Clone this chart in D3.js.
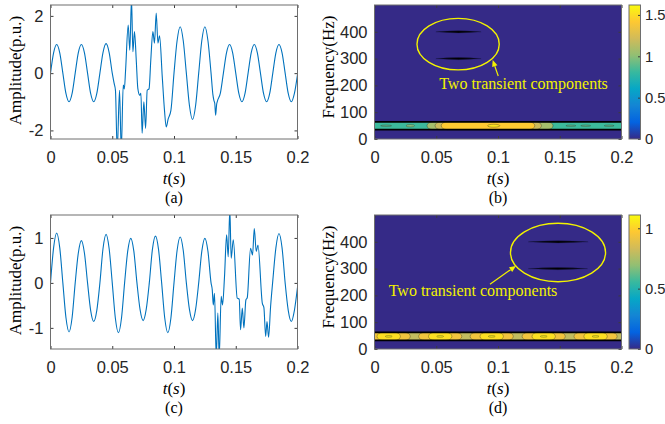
<!DOCTYPE html>
<html lang="en">
<head>
<meta charset="UTF-8">
<title>Signals and time-frequency maps</title>
<script src="https://cdn.jsdelivr.net/npm/d3@7"></script>
<style>
  body { margin: 0; background: #fff; }
  .lbl { font-family: "Liberation Serif", "Times New Roman", serif; font-size: 17px; fill: #000; }
  .sub { font-family: "Liberation Serif", "Times New Roman", serif; font-size: 16px; fill: #000; }
  .note { font-family: "Liberation Serif", "Times New Roman", serif; font-size: 16px; fill: #f2f200; }
</style>
</head>
<body>
<svg width="665" height="424"></svg>
<script>
// ---- data ----
const timeTicks = [0, 0.05, 0.1, 0.15, 0.2];
const ampTicksA = [-2, 0, 2];
const ampTicksC = [-1, 0, 1];
const freqTicks = [0, 100, 200, 300, 400];
const barTicksB = [0, 0.5, 1, 1.5];
const barTicksD = [0, 0.5, 1];

// [t (s), amplitude (p.u.)]
const signalA = [
  [0,0],[0.0025,0.71],[0.005,1.0],[0.0075,0.71],[0.01,0],[0.0125,-0.71],[0.015,-1.0],[0.0175,-0.71],
  [0.02,0],[0.0225,0.71],[0.025,1.0],[0.0275,0.71],[0.03,0],[0.0325,-0.71],[0.035,-1.0],[0.0375,-0.71],
  [0.04,0],[0.0425,0.72],[0.045,1.03],[0.0475,0.72],[0.05,0],[0.0515,-0.35],[0.0526,-0.6],[0.054,-2.7],
  [0.0559,-0.6],[0.0573,-2.7],[0.0589,-0.42],[0.0598,-0.55],[0.0608,0.1],[0.0629,1.68],[0.0642,0.8],[0.0656,2.6],
  [0.0667,0.75],[0.068,1.45],[0.0695,0.4],[0.0707,-0.53],[0.0723,-0.77],[0.0732,-0.7],[0.0742,-2.1],[0.0756,-1.0],
  [0.077,-1.93],[0.0783,-0.6],[0.0798,-0.55],[0.0812,0.45],[0.0829,1.45],[0.0842,1.05],[0.0856,2.1],[0.087,1.05],
  [0.0883,1.3],[0.0905,-0.13],[0.0923,-1.3],[0.0937,-1.88],[0.0953,-1.6],[0.0975,-1.3],[0.1,0],[0.1025,1.13],
  [0.105,1.62],[0.1075,1.13],[0.11,0],[0.1125,-1.13],[0.115,-1.62],[0.1175,-1.13],[0.12,0],[0.1225,1.13],
  [0.125,1.62],[0.1275,1.13],[0.13,0],[0.1315,-0.75],[0.1323,-0.95],[0.133,-1.05],[0.1337,-1.47],[0.1345,-1.1],
  [0.135,-1.0],[0.1375,-0.71],[0.14,0],[0.1425,0.71],[0.145,1.0],[0.1475,0.71],[0.15,0],[0.1525,-0.71],
  [0.155,-1.0],[0.1575,-0.71],[0.16,0],[0.1625,0.71],[0.165,1.0],[0.1675,0.71],[0.17,0],[0.1725,-0.71],
  [0.175,-1.0],[0.1775,-0.71],[0.18,0],[0.1825,0.71],[0.185,1.0],[0.1875,0.71],[0.19,0],[0.1925,-0.71],
  [0.195,-1.0],[0.1975,-0.71],[0.2,-0.05]
];

const signalC = [
  [0,0],[0.0025,0.78],[0.005,1.11],[0.0075,0.78],[0.01,0],[0.0125,-0.77],[0.015,-1.09],[0.0175,-0.77],
  [0.02,0],[0.0225,0.66],[0.025,0.94],[0.0275,0.66],[0.03,0],[0.0325,-0.61],[0.035,-0.86],[0.0375,-0.61],
  [0.04,0],[0.0425,0.76],[0.045,1.08],[0.0475,0.76],[0.05,0],[0.0525,-0.78],[0.055,-1.11],[0.0575,-0.78],
  [0.06,0],[0.0625,0.7],[0.065,0.99],[0.0675,0.7],[0.07,0],[0.0725,-0.59],[0.075,-0.84],[0.0775,-0.59],
  [0.08,0],[0.0825,0.74],[0.085,1.04],[0.0875,0.74],[0.09,0],[0.0925,-0.78],[0.095,-1.11],[0.0975,-0.78],
  [0.1,0],[0.1025,0.72],[0.105,1.02],[0.1075,0.72],[0.11,0],[0.1125,-0.59],[0.115,-0.84],[0.1175,-0.59],
  [0.12,0],[0.1225,0.7],[0.125,0.99],[0.1275,0.7],[0.13,0],[0.131,-0.16],[0.1318,-0.49],[0.1328,-0.23],
  [0.1342,-1.65],[0.1355,-0.67],[0.1366,-1.65],[0.1382,-0.3],[0.1393,-0.49],[0.1409,0.14],[0.1426,1.07],[0.1439,0.58],
  [0.1452,1.65],[0.1463,0.55],[0.148,0.96],[0.1512,-0.34],[0.1528,-0.36],[0.1539,-1.04],[0.1553,-0.56],[0.1566,-1.0],
  [0.1582,-0.38],[0.1593,-0.33],[0.162,0.77],[0.1636,0.62],[0.165,1.21],[0.1666,0.7],[0.168,0.84],[0.1715,-0.45],
  [0.1728,-0.55],[0.1742,-1.19],[0.1753,-0.86],[0.1766,-1.21],[0.1782,-0.53],[0.18,0.05],[0.1825,0.78],[0.185,1.1],
  [0.1875,0.78],[0.19,0],[0.1925,-0.61],[0.195,-0.86],[0.1975,-0.61],[0.2,-0.1]
];

// parula colour map stops
const parula = ["#352a87","#0363e1","#1485d4","#06a7c6","#38b99e","#92bf73","#d1bb59","#fec832","#f9fb0e"];

// fundamental band: [f low, f high, base magnitude]
const bandB = [35, 64, 0.82];
const bandD = [32, 62, 0.8];
// contour regions inside the band: [t0, t1, f0, f1, magnitude]
const regionsB = [
  [0.0425,0.1446,35,64,1.07],[0.049,0.1352,35,64,1.2],[0.054,0.1298,35,64,1.42],
  [0.0915,0.1015,44,55,1.52],
  [0.005,0.0138,47,52,0.9],[0.0255,0.0325,45,54,0.97],
  [0.155,0.163,47,52,0.9],[0.167,0.175,47,52,0.9],[0.186,0.194,47,52,0.9]
];
const regionsD = [
  [-0.006,0.029,32,62,0.93],[0.0357,0.0707,32,62,0.93],[0.0774,0.1124,32,62,0.93],
  [0.1195,0.1545,32,62,0.93],[0.1615,0.1965,32,62,0.93],[0.2035,0.2385,32,62,0.93],
  [0.002,0.021,32,62,1.03],[0.0437,0.0627,32,62,1.03],[0.0854,0.1044,32,62,1.03],
  [0.1275,0.1465,32,62,1.03],[0.1695,0.1885,32,62,1.03],
  [0.0087,0.0143,44,50,1.07],[0.0504,0.056,44,50,1.07],[0.0921,0.0977,44,50,1.07],
  [0.1342,0.1398,44,50,1.07],[0.1762,0.1818,44,50,1.07]
];
// transient components: [t0, t1, frequency]
const transientB = [[0.0497,0.0863,400],[0.0497,0.0863,300]];
const transientD = [[0.1245,0.1729,400],[0.1245,0.1725,300]];
// annotation ellipse: [t centre, f centre, t half width, f half height]
const ringB = [0.0677, 354, 0.0333, 96];
const ringD = [0.1486, 360, 0.0385, 109];
// annotation arrow [[t from, f from], [t to, f to]] and text anchor [t, f]
const arrowB = [[0.1002, 235], [0.0957, 295]];
const arrowD = [[0.0935, 242], [0.1145, 310]];
const noteB = [0.0524, 185];
const noteD = [0.0115, 197];
const noteText = "Two transient components";

// ---- layout ----
const svg = d3.select("svg");
const W = 247, H = 134;
const axisColor = "#3c3c3c";
const tickFont = '"Liberation Sans", Arial, sans-serif';

const color = cmax => d3.scaleLinear()
  .domain(parula.map((c, i) => i / (parula.length - 1) * cmax))
  .range(parula);

function frame(g, x, y, xTicks, yTicks, name) {
  const fmt = d => String(d);
  const ax = (a) => a.tickSizeInner(-3).tickSizeOuter(0);
  const bottom = g.append("g").attr("transform", `translate(0,${H})`)
    .call(ax(d3.axisBottom(x).tickValues(xTicks).tickFormat(fmt)).tickPadding(12));
  const top = g.append("g").call(ax(d3.axisTop(x).tickValues(xTicks).tickFormat("")));
  const left = g.append("g").call(ax(d3.axisLeft(y).tickValues(yTicks).tickFormat(fmt)).tickPadding(7));
  const right = g.append("g").attr("transform", `translate(${W},0)`)
    .call(ax(d3.axisRight(y).tickValues(yTicks).tickFormat("")));
  [bottom, top, left, right].forEach(a => {
    a.attr("color", axisColor).attr("font-family", tickFont).attr("font-size", 16.5);
    a.select(".domain").remove();
    a.selectAll("text").attr("fill", "#262626");
  });
  g.append("rect").attr("width", W).attr("height", H)
    .attr("fill", "none").attr("stroke", "#6e6e6e").attr("stroke-width", 1);

  const xl = g.append("text").attr("class", "lbl")
    .attr("x", W / 2).attr("y", H + 44.5).attr("text-anchor", "middle");
  xl.append("tspan").attr("font-style", "italic").text("t");
  xl.append("tspan").text("(");
  xl.append("tspan").attr("font-style", "italic").text("s");
  xl.append("tspan").text(")");
  g.append("text").attr("class", "sub")
    .attr("x", W / 2).attr("y", H + 63.5).attr("text-anchor", "middle").text(`(${name})`);
}

function signalPanel(ox, oy, data, yDomain, yTicks, name) {
  const g = svg.append("g").attr("transform", `translate(${ox},${oy})`);
  const x = d3.scaleLinear().domain([0, 0.2]).range([0, W]);
  const y = d3.scaleLinear().domain(yDomain).range([H, 0]);
  const clipId = "clip-" + name;
  g.append("clipPath").attr("id", clipId).append("rect").attr("width", W).attr("height", H);
  const line = d3.line().x(d => x(d[0])).y(d => y(d[1])).curve(d3.curveMonotoneX);
  g.append("path").datum(data).attr("clip-path", `url(#${clipId})`)
    .attr("d", line).attr("fill", "none").attr("stroke", "#0072bd").attr("stroke-width", 1.1);
  frame(g, x, y, timeTicks, yTicks, name);
  g.append("text").attr("class", "lbl")
    .attr("transform", `translate(-29.5,${H / 2 - 1.5}) rotate(-90)`)
    .attr("text-anchor", "middle").text("Amplitude(p.u.)");
}

function specPanel(ox, oy, band, regions, transients, ring, arrow, note, cmax, barTicks, name) {
  const g = svg.append("g").attr("transform", `translate(${ox},${oy})`);
  const x = d3.scaleLinear().domain([0, 0.2]).range([0, W]);
  const y = d3.scaleLinear().domain([0, 500]).range([H, 0]);
  const c = color(cmax);
  const clipId = "clip-" + name;
  g.append("clipPath").attr("id", clipId).append("rect").attr("width", W).attr("height", H);
  const body = g.append("g").attr("clip-path", `url(#${clipId})`);

  body.append("rect").attr("width", W).attr("height", H).attr("fill", c(0));
  body.append("rect").attr("x", x(0)).attr("width", x(0.2) - x(0))
    .attr("y", y(band[1])).attr("height", y(band[0]) - y(band[1])).attr("fill", c(band[2]));
  body.selectAll("rect.region").data(regions).join("rect").attr("class", "region")
    .attr("x", d => x(d[0])).attr("width", d => x(d[1]) - x(d[0]))
    .attr("y", d => y(d[3])).attr("height", d => y(d[2]) - y(d[3]))
    .attr("rx", d => Math.min((x(d[1]) - x(d[0])) / 2, 6))
    .attr("ry", d => (y(d[2]) - y(d[3])) / 2)
    .attr("fill", d => c(d[4])).attr("stroke", "#1e1e1e").attr("stroke-opacity", 0.7)
    .attr("stroke-width", 0.45);
  body.selectAll("line.edge").data(band.slice(0, 2)).join("line").attr("class", "edge")
    .attr("x1", x(0)).attr("x2", x(0.2)).attr("y1", d => y(d)).attr("y2", d => y(d))
    .attr("stroke", "#000").attr("stroke-width", 1.6);

  body.selectAll("path.tr").data(transients).join("path").attr("class", "tr")
    .attr("d", d => {
      const x0 = x(d[0]), x1 = x(d[1]), xm = (x0 + x1) / 2, yy = y(d[2]);
      return `M${x0},${yy}Q${xm},${yy - 2.2} ${x1},${yy}Q${xm},${yy + 2.2} ${x0},${yy}Z`;
    })
    .attr("fill", "#000").attr("stroke", "#1b1850").attr("stroke-width", 0.4);

  const yellow = "#f2f200";
  body.append("ellipse").datum(ring)
    .attr("cx", d => x(d[0])).attr("cy", d => y(d[1]))
    .attr("rx", d => x(d[2]) - x(0)).attr("ry", d => y(0) - y(d[3]))
    .attr("fill", "none").attr("stroke", yellow).attr("stroke-width", 1.4);

  const [p0, p1] = arrow.map(p => [x(p[0]), y(p[1])]);
  const ang = Math.atan2(p1[1] - p0[1], p1[0] - p0[0]);
  const hl = 6.5, hw = 2.8;
  const base = [p1[0] - hl * Math.cos(ang), p1[1] - hl * Math.sin(ang)];
  body.append("line").attr("x1", p0[0]).attr("y1", p0[1]).attr("x2", base[0]).attr("y2", base[1])
    .attr("stroke", yellow).attr("stroke-width", 1.2);
  body.append("path")
    .attr("d", `M${p1[0]},${p1[1]}L${base[0] - hw * Math.sin(ang)},${base[1] + hw * Math.cos(ang)}` +
      `L${base[0] + hw * Math.sin(ang)},${base[1] - hw * Math.cos(ang)}Z`)
    .attr("fill", yellow);
  body.append("text").attr("class", "note")
    .attr("x", x(note[0])).attr("y", y(note[1])).text(noteText);

  frame(g, x, y, timeTicks, freqTicks, name);
  g.append("text").attr("class", "lbl")
    .attr("transform", `translate(-41,${H / 2 - 5}) rotate(-90)`)
    .attr("text-anchor", "middle").text("Frequency(Hz)");

  // colour bar
  const gradId = "grad-" + name;
  const grad = svg.append("defs").append("linearGradient").attr("id", gradId)
    .attr("x1", 0).attr("y1", 1).attr("x2", 0).attr("y2", 0);
  grad.selectAll("stop").data(parula).join("stop")
    .attr("offset", (d, i) => i / (parula.length - 1)).attr("stop-color", d => d);
  const cb = g.append("g").attr("transform", `translate(${W + 7.5},0)`);
  const cw = 11.5;
  const cy = d3.scaleLinear().domain([0, cmax]).range([H, 0]);
  cb.append("rect").attr("width", cw).attr("height", H).attr("fill", `url(#${gradId})`);
  const ca = cb.append("g").attr("transform", `translate(${cw},0)`)
    .call(d3.axisRight(cy).tickValues(barTicks).tickFormat(d => String(d))
      .tickSizeInner(-2.5).tickSizeOuter(0).tickPadding(4.5));
  ca.attr("color", axisColor).attr("font-family", tickFont).attr("font-size", 14.8);
  ca.select(".domain").remove();
  ca.selectAll("text").attr("fill", "#262626");
  cb.append("rect").attr("width", cw).attr("height", H)
    .attr("fill", "none").attr("stroke", "#6e6e6e").attr("stroke-width", 1);
}

signalPanel(50.5, 5, signalA, [-2.3, 2.38], ampTicksA, "a");
specPanel(374.5, 5, bandB, regionsB, transientB, ringB, arrowB, noteB, 1.62, barTicksB, "b");
signalPanel(50.5, 215, signalC, [-1.47, 1.51], ampTicksC, "c");
specPanel(374.5, 215, bandD, regionsD, transientD, ringD, arrowD, noteD, 1.11, barTicksD, "d");
</script>
</body>
</html>
